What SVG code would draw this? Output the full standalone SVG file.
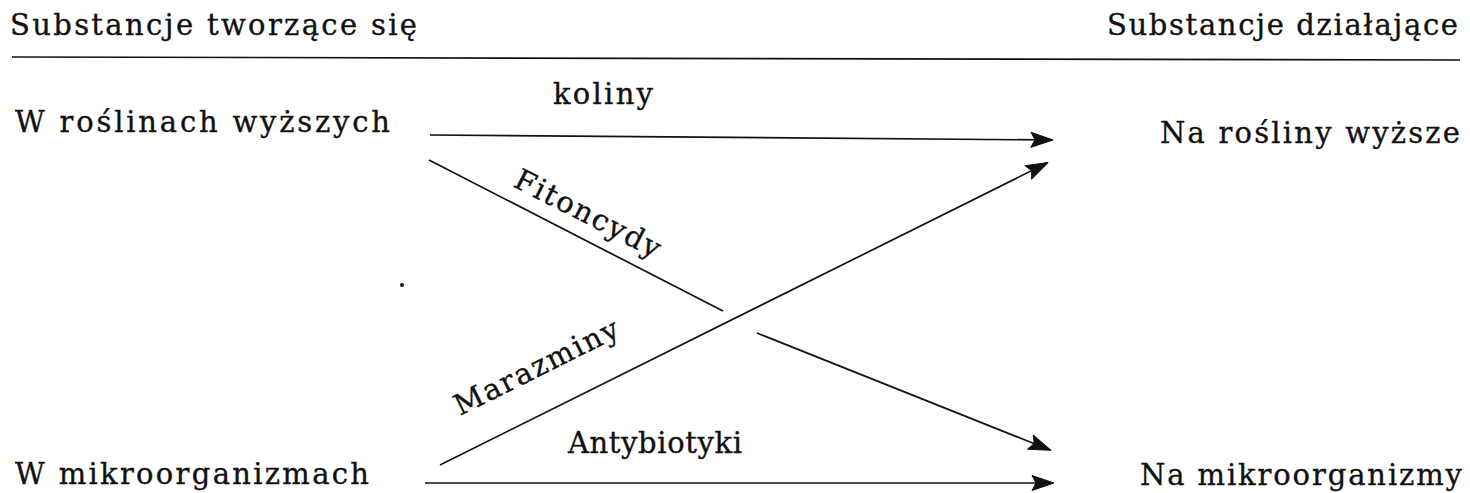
<svg xmlns="http://www.w3.org/2000/svg" width="1470" height="493" viewBox="0 0 1470 493">
<style>
.t{font-family:"DejaVu Serif","Liberation Serif",serif;font-size:29px;fill:#111;stroke:#111;stroke-width:0.35;}
.l{fill:none;stroke:#111;stroke-width:1.7;}
</style>
<defs>
<marker id="ah" markerUnits="userSpaceOnUse" markerWidth="24" markerHeight="16" refX="22" refY="8" orient="auto" viewBox="0 0 24 16">
<path d="M23,8 L1,0.5 L5,8 L1,15.5 Z" fill="#111" stroke="#111" stroke-width="1" stroke-linejoin="round"/>
</marker>
</defs>
<rect width="1470" height="493" fill="#fff"/>
<g id="header">
<text class="t" x="10" y="35" textLength="407" lengthAdjust="spacing">Substancje tworzące się</text>
<text class="t" x="1107" y="35" textLength="351" lengthAdjust="spacing">Substancje działające</text>
<line class="l" x1="12" y1="57" x2="1460" y2="60"/>
</g>
<g id="src-plants"><text class="t" x="15" y="132" textLength="375" lengthAdjust="spacing">W roślinach wyższych</text></g>
<g id="src-micro"><text class="t" x="15" y="484" textLength="354" lengthAdjust="spacing">W mikroorganizmach</text></g>
<g id="dst-plants"><text class="t" x="1160" y="143" textLength="300" lengthAdjust="spacing">Na rośliny wyższe</text></g>
<g id="dst-micro"><text class="t" x="1140" y="485" textLength="322" lengthAdjust="spacing">Na mikroorganizmy</text></g>
<g id="connectors">
<line class="l" x1="430" y1="135" x2="1052" y2="140" marker-end="url(#ah)"/>
<line class="l" x1="429" y1="160" x2="723" y2="311"/>
<line class="l" x1="757" y1="333" x2="1050" y2="450" marker-end="url(#ah)"/>
<line class="l" x1="440" y1="465" x2="1047" y2="163" marker-end="url(#ah)"/>
<line class="l" x1="425" y1="483" x2="1053" y2="483" marker-end="url(#ah)"/>
</g>
<g id="labels">
<text class="t" x="553" y="104" textLength="100" lengthAdjust="spacing">koliny</text>
<text class="t" transform="translate(512,186) rotate(27)" textLength="160" lengthAdjust="spacing">Fitoncydy</text>
<text class="t" transform="translate(460,416) rotate(-26.5)" textLength="180" lengthAdjust="spacing">Marazminy</text>
<text class="t" x="568" y="453" textLength="174" lengthAdjust="spacing">Antybiotyki</text>
</g>
<circle cx="402" cy="285" r="2" fill="#111"/>
</svg>
